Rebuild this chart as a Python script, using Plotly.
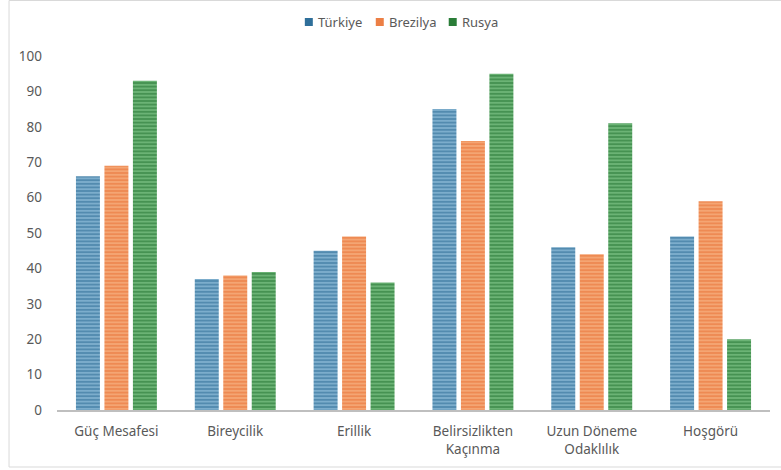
import plotly.graph_objects as go

categories = ["Güç Mesafesi", "Bireycilik", "Erillik", "Belirsizlikten<br>Kaçınma", "Uzun Döneme<br>Odaklılık", "Hoşgörü"]
turkiye = [66, 37, 45, 85, 46, 49]
brezilya = [69, 38, 49, 76, 44, 59]
rusya = [93, 39, 36, 95, 81, 20]
y_ticks = [0, 10, 20, 30, 40, 50, 60, 70, 80, 90, 100]
series_names = ["Türkiye", "Brezilya", "Rusya"]

dark_colors = ["#1f5f8a", "#e66a2c", "#176a26"]
light_colors = ["#86b6d4", "#f6ab7a", "#74bb7e"]
legend_colors = ["#2f6f9a", "#ec7f45", "#2a7d38"]

L, R, T, B = 57, 10.5, 56, 60
W, H = 781, 470
PW, PH = W - L - R, H - T - B

def px_x(p):
    return (p - L) / PW

def px_y(p):
    return (H - B - p) / PH

fig = go.Figure()
for name, vals, dark, light in zip(series_names, [turkiye, brezilya, rusya], dark_colors, light_colors):
    fig.add_trace(go.Bar(
        name=name, x=categories, y=vals, showlegend=False,
        marker=dict(
            color=light,
            line=dict(width=0),
            pattern=dict(shape="-", fgcolor=dark, bgcolor=light, size=3.6, solidity=0.6, fillmode="overlay"),
        ),
    ))

shapes = [dict(type="rect", xref="paper", yref="paper",
               x0=px_x(9), x1=px_x(800), y0=px_y(467), y1=px_y(0.5),
               line=dict(color="#d9d9d9", width=1), fillcolor="rgba(0,0,0,0)", layer="below")]
annotations = []
legend_sq = [305, 376, 449]
for name, c, sx in zip(series_names, legend_colors, legend_sq):
    shapes.append(dict(type="rect", xref="paper", yref="paper",
                       x0=px_x(sx), x1=px_x(sx + 8), y0=px_y(26), y1=px_y(18),
                       line=dict(width=0), fillcolor=c))
    annotations.append(dict(text=name, xref="paper", yref="paper", x=px_x(sx + 11), y=px_y(22),
                            xanchor="left", yanchor="middle", showarrow=False,
                            font=dict(size=13, color="#595959")))

fig.update_layout(
    width=W, height=H,
    margin=dict(l=L, r=R, t=T, b=B),
    paper_bgcolor="white", plot_bgcolor="white",
    barmode="group", bargap=0.281, bargroupgap=0.158,
    font=dict(family="Noto Sans", size=13.5, color="#595959"),
    showlegend=False,
    xaxis=dict(showgrid=False, showline=True, linecolor="#bfbfbf", linewidth=1.5,
               ticks="", ticklabelstandoff=8, tickfont=dict(size=13.5, color="#595959")),
    yaxis=dict(range=[0, 100], tickvals=y_ticks, showgrid=False, zeroline=False,
               showline=False, ticks="", ticklabelstandoff=14, tickfont=dict(size=13.5, color="#595959")),
    shapes=shapes,
    annotations=annotations,
)

fig.write_html("out.html")
